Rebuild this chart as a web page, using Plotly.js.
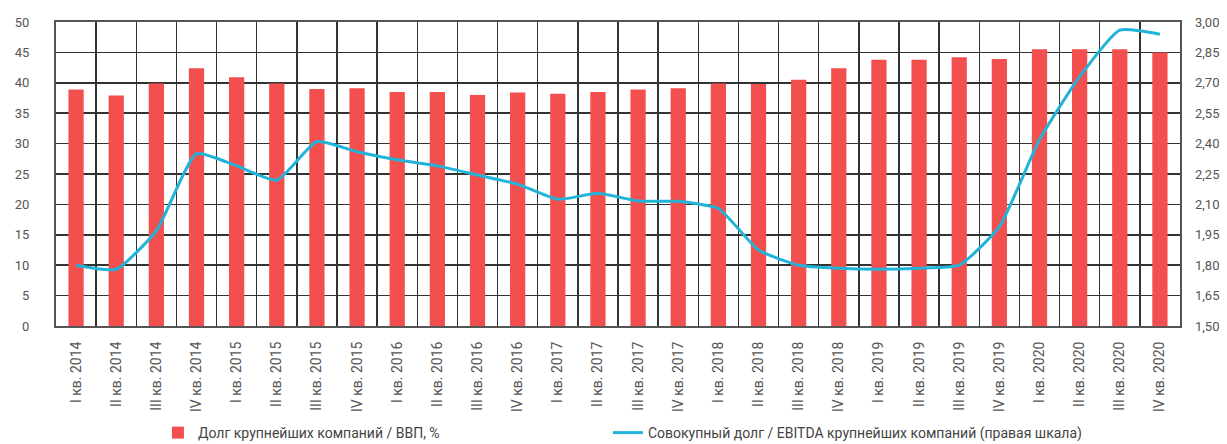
<!DOCTYPE html>
<html><head><meta charset="utf-8">
<script src="https://cdn.plot.ly/plotly-3.0.1.min.js"></script>
<style>html,body{margin:0;padding:0;background:#fff}#chart{width:1227px;height:444px}</style>
</head><body><div id="chart"></div>
<script>
const quarters = ["I кв. 2014","II кв. 2014","III кв. 2014","IV кв. 2014",
 "I кв. 2015","II кв. 2015","III кв. 2015","IV кв. 2015",
 "I кв. 2016","II кв. 2016","III кв. 2016","IV кв. 2016",
 "I кв. 2017","II кв. 2017","III кв. 2017","IV кв. 2017",
 "I кв. 2018","II кв. 2018","III кв. 2018","IV кв. 2018",
 "I кв. 2019","II кв. 2019","III кв. 2019","IV кв. 2019",
 "I кв. 2020","II кв. 2020","III кв. 2020","IV кв. 2020"];
const debtToGdp = [38.9,37.9,39.9,42.4,40.9,39.9,39.0,39.1,38.5,38.5,38.0,38.4,
 38.2,38.5,38.9,39.1,39.9,39.8,40.5,42.4,43.8,43.8,44.2,43.9,45.5,45.5,45.5,45.0];
const debtToEbitda = [1.80,1.78,1.97,2.35,2.29,2.22,2.41,2.36,2.32,2.29,2.245,2.20,
 2.125,2.155,2.117,2.115,2.08,1.875,1.80,1.785,1.78,1.785,1.80,1.99,2.42,2.73,2.96,2.94];
const leftTicks = [0,5,10,15,20,25,30,35,40,45,50];
const rightTicks = [1.50,1.65,1.80,1.95,2.10,2.25,2.40,2.55,2.70,2.85,3.00];

const FONT = 'Roboto, sans-serif';
const traces = [
 {type:'bar', x:quarters, y:debtToGdp, name:'Долг крупнейших компаний / ВВП, %',
  marker:{color:'#f44f4f'}, yaxis:'y', legend:'legend'},
 {type:'scatter', mode:'lines', x:quarters, y:debtToEbitda,
  name:'Совокупный долг / EBITDA крупнейших компаний (правая шкала)',
  line:{color:'#22b4d8', width:3, shape:'spline', smoothing:0.5}, yaxis:'y2', legend:'legend2'}
];
const tickFont = {family:FONT, size:13, color:'#555'};
const legendFont = {family:FONT, size:14, color:'#444'};
const layout = {
 width:1227, height:444,
 margin:{l:56, r:47, t:22, b:118, autoexpand:false},
 paper_bgcolor:'#fff', plot_bgcolor:'#fff',
 separators:', ',
 bargap:0.62,
 showlegend:true,
 legend:{x:0.0907, xanchor:'left', y:-0.352, yanchor:'middle', font:legendFont, bgcolor:'rgba(0,0,0,0)'},
 legend2:{x:0.491, xanchor:'left', y:-0.352, yanchor:'middle', font:legendFont, bgcolor:'rgba(0,0,0,0)'},
 xaxis:{type:'category', tickson:'boundaries', showgrid:true, gridcolor:'#333', gridwidth:1.5,
   tickangle:-90, tickfont:{family:FONT, size:14, color:'#555'}, ticklabelstandoff:8,
   showline:true, linecolor:'#555', linewidth:2, mirror:true, ticks:'', ticklen:0, automargin:false},
 yaxis:{range:[0,50], tickvals:leftTicks, showgrid:true, gridcolor:'#333', gridwidth:1.5,
   tickfont:tickFont, ticklabelstandoff:22, zeroline:false, automargin:false,
   showline:true, linecolor:'#555', linewidth:2, mirror:true},
 yaxis2:{overlaying:'y', side:'right', range:[1.5,3.0], tickvals:rightTicks, tickformat:'.2f',
   showgrid:false, zeroline:false, tickfont:tickFont, ticklabelstandoff:14, automargin:false}
};
Plotly.newPlot('chart', traces, layout, {staticPlot:true});
</script></body></html>
